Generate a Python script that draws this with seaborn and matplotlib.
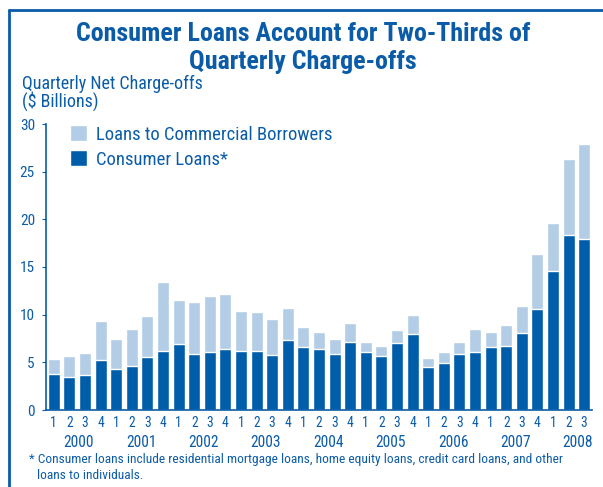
import matplotlib
matplotlib.use("Agg")
import matplotlib.pyplot as plt
from matplotlib.patches import Patch
from matplotlib.lines import Line2D
import pandas as pd
import seaborn as sns

# Dados (US$ bilhões)
anos = ["2000", "2001", "2002", "2003", "2004", "2005", "2006", "2007", "2008"]
trimestres = ["1", "2", "3", "4"] * 8 + ["1", "2", "3"]
total = [5.4, 5.7, 6.0, 9.35, 7.45, 8.5, 9.85, 13.45, 11.55, 11.35, 11.95, 12.2,
         10.4, 10.3, 9.55, 10.7, 8.7, 8.2, 7.45, 9.15, 7.15, 6.7, 8.4, 10.0,
         5.45, 6.1, 7.15, 8.5, 8.2, 8.95, 10.9, 16.4, 19.65, 26.35, 27.95]
consumo = [3.8, 3.5, 3.7, 5.2, 4.3, 4.6, 5.55, 6.2, 6.95, 5.9, 6.1, 6.4,
           6.2, 6.2, 5.8, 7.35, 6.6, 6.4, 5.9, 7.15, 6.1, 5.7, 7.05, 8.0,
           4.5, 4.95, 5.9, 6.1, 6.6, 6.7, 8.1, 10.6, 14.6, 18.4, 17.95]
legenda = ["Loans to Commercial Borrowers", "Consumer Loans*"]

azul_escuro = "#005DAA"
azul_claro = "#B4CDE6"
azul_texto = "#0B5CA8"
fonte = ["Roboto Condensed", "DejaVu Sans"]

sns.set_style("white")
plt.rcParams["font.family"] = fonte

periodos = [f"{a}Q{q}" for a in anos for q in range(1, 5)][:len(total)]
df = pd.DataFrame({"periodo": periodos, "total": total, "consumo": consumo})

fig = plt.figure(figsize=(6.03, 4.87), dpi=100)
ax = fig.add_axes([46 / 603, 77 / 487, 546 / 603, 286 / 487])

sns.barplot(data=df, x="periodo", y="total", color=azul_claro, width=0.77,
            saturation=1, ax=ax)
sns.barplot(data=df, x="periodo", y="consumo", color=azul_escuro, width=0.77,
            saturation=1, ax=ax)

ax.set_xlim(-0.5, len(total) - 0.5)
ax.set_ylim(0, 30)
ax.set_yticks(range(0, 31, 5))
ax.set_xlabel("")
ax.set_ylabel("")
for lado in ["top", "right"]:
    ax.spines[lado].set_visible(False)
for lado in ["left", "bottom"]:
    ax.spines[lado].set_color(azul_texto)
    ax.spines[lado].set_linewidth(1.2)

ax.set_xticks(range(len(total)))
ax.set_xticklabels(trimestres, color=azul_texto, fontsize=9.8)
ax.set_xticks([i + 0.5 for i in range(len(total))], minor=True)
ax.tick_params(axis="x", which="major", length=0, pad=4)
ax.tick_params(axis="x", which="minor", length=3, color=azul_texto, direction="out")
ax.tick_params(axis="y", length=3, color=azul_texto, labelcolor=azul_texto,
               labelsize=11, direction="out", left=True, pad=5)

# Anos abaixo dos trimestres
for i, ano in enumerate(anos):
    ax.text(i * 4 + 1.6, -3.85, ano, ha="center", va="baseline", fontsize=11.2,
            color=azul_texto)

handles = [Patch(facecolor=azul_claro), Patch(facecolor=azul_escuro)]
ax.legend(handles, legenda, loc="upper left", bbox_to_anchor=(0.044, 0.995),
          frameon=False, fontsize=13.4, handlelength=0.9, handleheight=0.95,
          handletextpad=0.5, labelspacing=0.35, borderpad=0, borderaxespad=0,
          labelcolor=azul_texto)

fig.text(0.502, 1 - 40.7 / 487, "Consumer Loans Account for Two-Thirds of",
         ha="center", va="baseline", fontsize=18.7, fontweight="bold",
         color=azul_texto)
fig.text(0.502, 1 - 69.3 / 487, "Quarterly Charge-offs", ha="center",
         va="baseline", fontsize=18.7, fontweight="bold", color=azul_texto)
fig.text(22 / 603, 1 - 89 / 487, "Quarterly Net Charge-offs", ha="left",
         va="baseline", fontsize=13, color=azul_texto)
fig.text(22 / 603, 1 - 106.7 / 487, "($ Billions)", ha="left", va="baseline",
         fontsize=13, color=azul_texto)
fig.text(29 / 603, 1 - 463.3 / 487,
         "* Consumer loans include residential mortgage loans, home equity loans, credit card loans, and other",
         ha="left", va="baseline", fontsize=9.6, color=azul_texto)
fig.text(37 / 603, 1 - 479 / 487, "loans to individuals.", ha="left",
         va="baseline", fontsize=9.6, color=azul_texto)

# Moldura azul (esquerda e topo)
fig.add_artist(Line2D([9 / 603, 9 / 603], [0, 1 - 10 / 487], color=azul_texto,
                      linewidth=2, transform=fig.transFigure))
fig.add_artist(Line2D([9 / 603, 1], [1 - 10 / 487, 1 - 10 / 487], color=azul_texto,
                      linewidth=2, transform=fig.transFigure))

fig.savefig("out.png", dpi=100)
